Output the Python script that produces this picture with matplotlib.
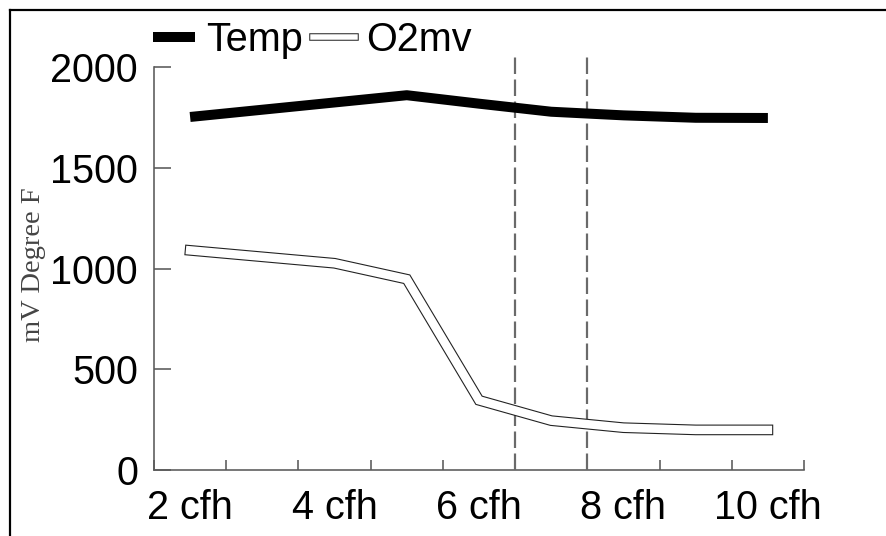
import matplotlib
matplotlib.use("Agg")
import matplotlib.pyplot as plt
from matplotlib.lines import Line2D
import matplotlib.patheffects as pe

# ---- data ----
categories = [2, 3, 4, 5, 6, 7, 8, 9, 10]          # gas flow, cfh
tick_labels = ["2 cfh", "", "4 cfh", "", "6 cfh", "", "8 cfh", "", "10 cfh"]
temp = [1752, 1788, 1824, 1860, 1818, 1778, 1760, 1748, 1747]
o2mv = [1090, 1058, 1026, 947, 346, 245, 210, 199, 199]
dashed_between = [(6, 7), (7, 8)]                  # boundaries marked by dashed lines
yticks = [0, 500, 1000, 1500, 2000]

W, H, DPI = 886, 536, 100
fig = plt.figure(figsize=(W / DPI, H / DPI), dpi=DPI)
plt.rcParams['font.family'] = ['Liberation Sans', 'DejaVu Sans']

px = 72.0 / DPI  # points per pixel
FS = 28.5

# axes in pixel coords
left, right, top, bottom = 154, 804, 67, 470
ax = fig.add_axes([left / W, 1 - bottom / H, (right - left) / W, (bottom - top) / H])

xs = list(range(len(categories)))
ax.set_xlim(-0.5, len(categories) - 0.5)
ax.set_ylim(0, 2000)

axis_col = '#5a5a5a'
for s in ['top', 'right']:
    ax.spines[s].set_visible(False)
for s in ['left', 'bottom']:
    ax.spines[s].set_color(axis_col)
    ax.spines[s].set_linewidth(1.6 * px)

# Temp line
ax.plot(xs, temp, color='black', lw=10 * px, solid_capstyle='butt',
        solid_joinstyle='round', zorder=4)

# O2mv: white band with thin black outline
inner = 8.5 * px
ax.plot(xs, o2mv, color='white', lw=inner, solid_capstyle='projecting',
        solid_joinstyle='miter', zorder=4,
        path_effects=[pe.Stroke(linewidth=inner + 2.2 * px, foreground='#222222',
                                capstyle='projecting', joinstyle='miter'),
                      pe.Normal()])

# dashed vertical lines at category boundaries
for a, b in dashed_between:
    xpos = (categories.index(a) + categories.index(b)) / 2
    ax.plot([xpos, xpos], [0, 2070], color='#6a6a6a', lw=2.2 * px,
            dashes=(7.5, 2.5), clip_on=False, zorder=3)

# ticks
ax.set_yticks(yticks)
ax.set_yticklabels([str(v) for v in yticks])
ax.tick_params(axis='y', direction='in', length=17 * px, width=1.6 * px,
               color=axis_col, pad=16 * px, labelsize=FS)
ax.set_xticks(xs)
ax.set_xticklabels(tick_labels)
ax.tick_params(axis='x', which='major', length=0, pad=14, labelsize=FS)
ax.set_xticks([x - 0.5 for x in xs] + [xs[-1] + 0.5], minor=True)
ax.tick_params(axis='x', which='minor', direction='in', length=10 * px,
               width=1.6 * px, color=axis_col)

# y label
fig.text(34 / W, 1 - 265 / H, "mV Degree F", rotation=90, ha='center', va='center',
         family=['Liberation Serif', 'DejaVu Serif'], fontsize=20.5, color='#444444')

# legend
h_temp = Line2D([], [], color='black', lw=10 * px, solid_capstyle='butt')
lin = 5.5 * px
h_o2 = Line2D([], [], color='white', lw=lin, solid_capstyle='projecting',
              path_effects=[pe.Stroke(linewidth=lin + 2 * px, foreground='#222222',
                                      capstyle='projecting'), pe.Normal()])
fig.legend([h_temp, h_o2], ["Temp", "O2mv"], loc='center left',
           bbox_to_anchor=(153 / W, 1 - 40 / H), ncol=2, frameon=False,
           fontsize=FS, handlelength=1.05, handletextpad=0.3, columnspacing=0.25,
           borderpad=0, borderaxespad=0)

# outer frame (top and left edges visible)
fig.add_artist(Line2D([10 / W, 10 / W], [0, 1 - 10 / H], color='black', lw=2.2 * px,
                      transform=fig.transFigure))
fig.add_artist(Line2D([10 / W, 1], [1 - 10 / H, 1 - 10 / H], color='black', lw=2.2 * px,
                      transform=fig.transFigure))

fig.savefig("out.png", dpi=DPI)
